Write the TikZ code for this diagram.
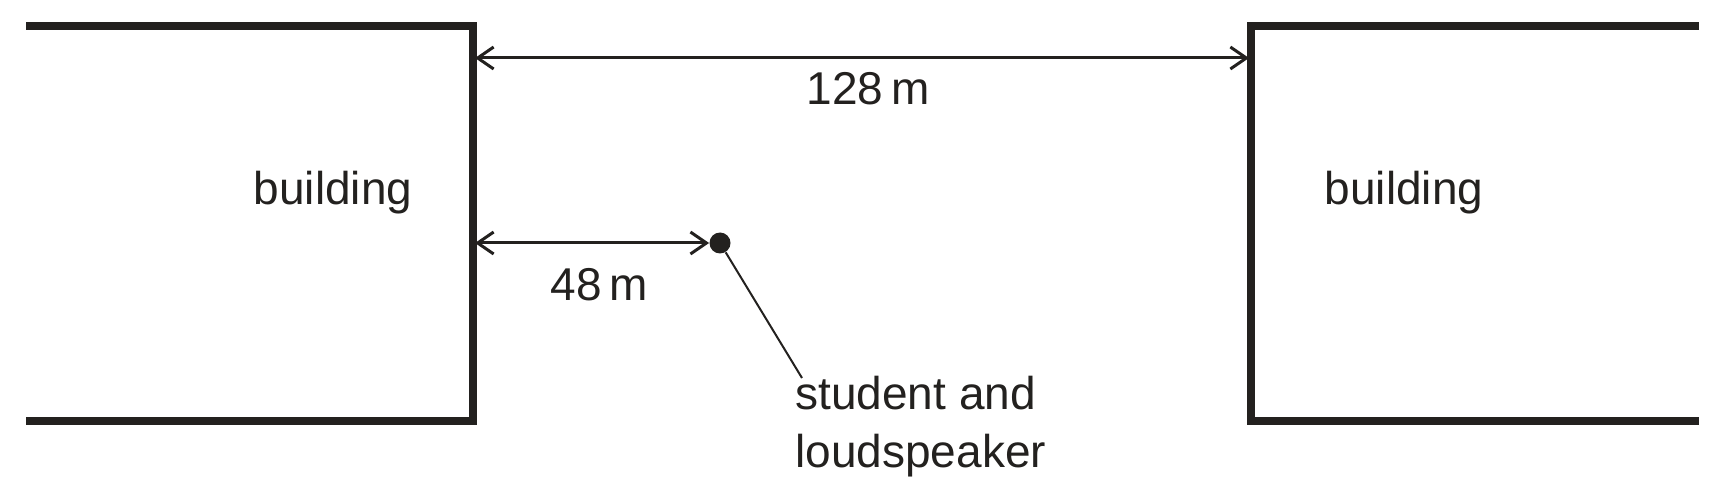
\documentclass[tikz,border=0pt]{standalone}
\usepackage{fontspec}
\setmainfont{Liberation Sans}
\usetikzlibrary{arrows.meta}
\definecolor{ink}{RGB}{35,33,31}
\begin{document}
\begin{tikzpicture}[x=0.5pt,y=-0.5pt,
  wall/.style={line width=4pt,draw=ink,line join=miter},
  dim/.style={line width=1.5pt,draw=ink,{Straight Barb[length=8pt,width=11pt]}-{Straight Barb[length=8pt,width=11pt]}},
  lbl/.style={font=\fontsize{23pt}{29pt}\selectfont,text=ink,inner sep=0pt},
  dot/.style={circle,fill=ink,minimum size=10.5pt,inner sep=0pt}]
\useasboundingbox (0,0) rectangle (1724,497);
% buildings
\draw[wall] (26,26) -- (473,26) -- (473,421) -- (26,421);
\draw[wall] (1699,26) -- (1251,26) -- (1251,421) -- (1699,421);
\coordinate (lw1) at (475,58);
\coordinate (rw1) at (1249,58);
\coordinate (lw2) at (475,243);
\node[dot] (s) at (720,243) {};
% dimensions
\draw[dim] (lw1) -- (rw1);
\draw[dim] (lw2) -- (s.west);
\node[lbl] (d128) at (868,89) {128\,m};
\node[lbl] (d48) at (599,285) {48\,m};
\node[lbl] (b1) at (333,193) {building};
\node[lbl] (b2) at (1404,193) {building};
\node[lbl,anchor=north west,align=left] (st) at (795,376) {student and\\loudspeaker};
\coordinate (lead) at (802,378);
\draw[line width=1pt,draw=ink] (s) -- (lead);
\end{tikzpicture}
\end{document}
